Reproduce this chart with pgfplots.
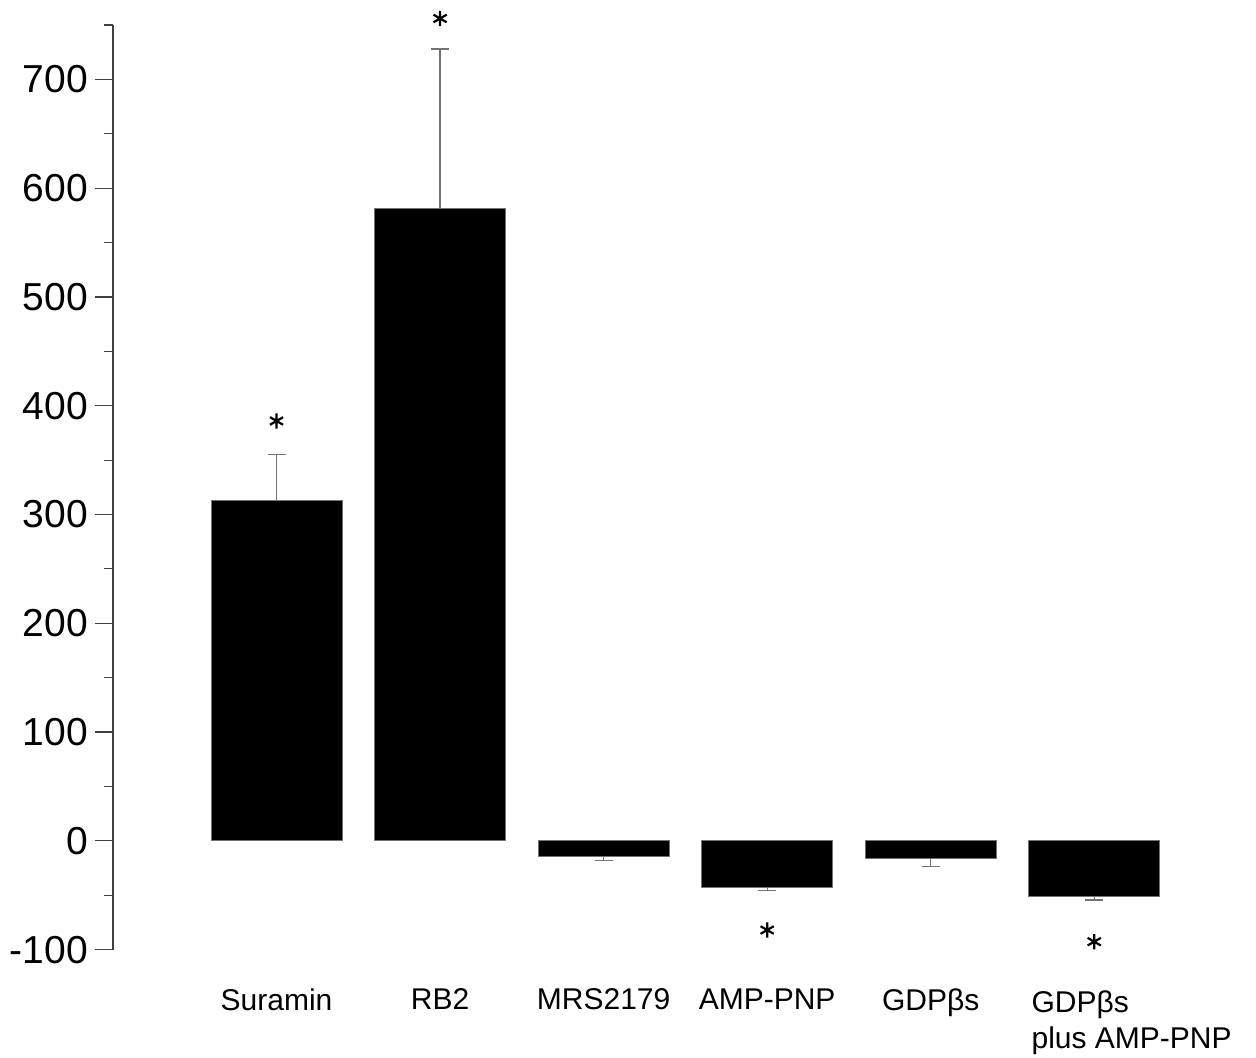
\documentclass[border=0pt]{standalone}
\usepackage{fontspec}
\setmainfont{Liberation Sans}
\usepackage{pgfplots}
\pgfplotsset{compat=1.18}
\usepackage{pgfplotstable}

\pgfplotstableread{
x y ep em
0 313 42.5 0
1 581 147 0
2 -14.7 0 3.7
3 -42.6 0 3.2
4 -16.3 0 7
5 -51.3 0 3
}\bars

\pgfplotstableread{
x y
0 386
1 756
3 -82
5 -92.7
}\stars

\begin{document}
\begin{tikzpicture}
\useasboundingbox (-56.5pt,-53.7pt) rectangle (571.5pt,474.8pt);
\begin{axis}[
  at={(0,0)}, anchor=south west,
  scale only axis, width=531.5pt, height=462.3pt,
  xmin=-1, xmax=5.5, ymin=-100, ymax=750,
  axis x line*=bottom, axis y line*=left,
  x axis line style={draw=none},
  y axis line style={-, draw=black!75, line width=0.6pt},
  xtick={0,1,2,3,4,5},
  xticklabels={Suramin,RB2,MRS2179,AMP-PNP,GDPβs,{}},
  major x tick style={draw=none},
  ytick={-100,0,100,200,300,400,500,600,700},
  minor ytick={-50,50,150,250,350,450,550,650,750},
  tick align=outside,
  major tick length=9pt, minor tick length=4.5pt,
  y tick style={draw=black!75, line width=0.6pt},
  yticklabel style={font=\fontsize{19.5}{22}\selectfont},
  xticklabel style={font=\fontsize{15}{18}\selectfont, yshift=-7pt},
  /pgf/number format/assume math mode=true,
  clip=false,
]
\addplot[ybar, bar width=65.5pt, fill=black, draw=black!55, line width=0.4pt,
  error bars/.cd, y dir=both, y explicit,
  error bar style={black!55, line width=0.6pt},
  error mark options={black!55, line width=0.6pt, mark size=4.5pt, rotate=90}]
  table[x=x, y=y, y error plus=ep, y error minus=em] {\bars};
\addplot[only marks, mark=asterisk, mark size=3.8pt, line width=1.1pt, black] table[x=x,y=y] {\stars};
\node[anchor=north west, align=left, font=\fontsize{15}{18}\selectfont, inner sep=0pt,
  xshift=-31.5pt, yshift=-20.2pt] at (axis cs:5,-100) {GDPβs\\plus AMP-PNP};
\end{axis}
\end{tikzpicture}
\end{document}
